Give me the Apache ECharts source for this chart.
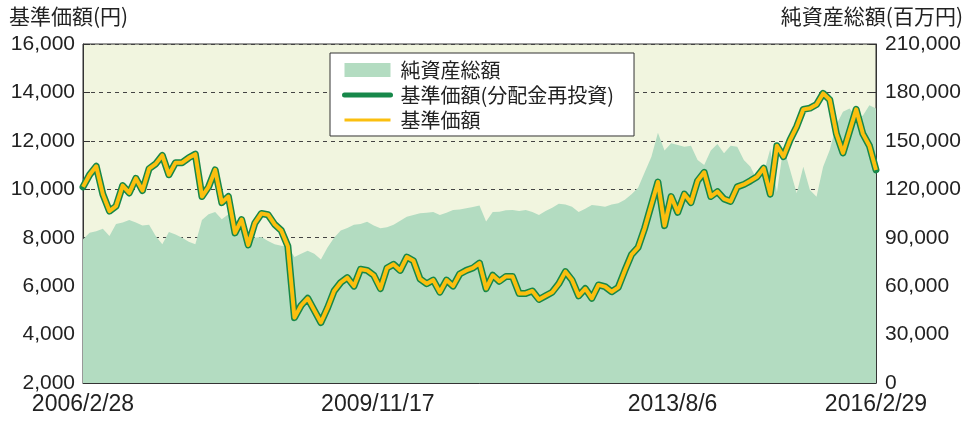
<!DOCTYPE html>
<html>
<head>
<meta charset="utf-8">
<script src="https://cdn.jsdelivr.net/npm/echarts@6/dist/echarts.min.js"></script>
<style>
  html, body { margin: 0; padding: 0; background: #fff; }
  #chart { width: 967px; height: 428px; }
</style>
</head>
<body>
<div id="chart"></div>
<script>
// monthly samples, 2006/2/28 .. 2016/2/29
const tickLabels = ['2006/2/28', '2009/11/17', '2013/8/6', '2016/2/29']

const nav = [
  10100, 10600, 10950, 9800, 9100, 9300, 10150, 9850, 10450, 9950,
  10850, 11050, 11400, 10600, 11100, 11100, 11300, 11450, 9700, 10100,
  10800, 9450, 9700, 8200, 8750, 7700, 8600, 9000, 8950, 8550,
  8300, 7650, 4700, 5200, 5500, 5000, 4500, 5100, 5800, 6150,
  6350, 6000, 6700, 6650, 6450, 5900, 6750, 6900, 6650, 7200,
  7050, 6300, 6100, 6250, 5750, 6250, 6000, 6500, 6650, 6750,
  6950, 5900, 6450, 6200, 6400, 6400, 5700, 5700, 5800, 5450,
  5600, 5750, 6100, 6600, 6250, 5600, 5900, 5500, 6050, 5980,
  5770, 5950, 6650, 7300, 7600, 8400, 9350, 10300, 8500, 9700,
  9050, 9800, 9450, 10350, 10700, 9700, 9900, 9600, 9500, 10100,
  10200, 10350, 10520, 10870, 9800, 11800, 11350, 12040, 12590, 13300,
  13350, 13500, 13960, 13700, 12300, 11500, 12400, 13300, 12300, 11800, 10800,
]

const navReinvested = [
  10100, 10600, 10950, 9800, 9100, 9300, 10150, 9850, 10450, 9950,
  10850, 11050, 11400, 10600, 11100, 11100, 11300, 11450, 9700, 10100,
  10800, 9450, 9700, 8200, 8750, 7700, 8600, 9000, 8950, 8550,
  8300, 7650, 4700, 5200, 5500, 5000, 4500, 5100, 5800, 6150,
  6350, 6000, 6700, 6650, 6450, 5900, 6750, 6900, 6650, 7200,
  7050, 6300, 6100, 6250, 5750, 6250, 6000, 6500, 6650, 6750,
  6950, 5900, 6450, 6200, 6400, 6400, 5700, 5700, 5800, 5450,
  5600, 5750, 6100, 6600, 6250, 5600, 5900, 5500, 6050, 5980,
  5770, 5950, 6650, 7300, 7600, 8400, 9350, 10300, 8500, 9700,
  9050, 9800, 9450, 10350, 10700, 9700, 9900, 9600, 9500, 10100,
  10200, 10350, 10520, 10870, 9800, 11800, 11350, 12040, 12590, 13300,
  13350, 13500, 13960, 13700, 12300, 11500, 12400, 13300, 12300, 11800, 10800,
]

const netAssets = [
  89000, 93000, 94000, 95500, 91000, 98500, 99500, 101000, 99500, 97500,
  98000, 91000, 86000, 93500, 92000, 90000, 87500, 86000, 101000, 104500,
  106000, 101500, 104500, 100000, 96000, 92000, 90000, 90500, 88000, 86000,
  85000, 84500, 78000, 80000, 82000, 80000, 76500, 84000, 90000, 94500,
  96000, 98000, 98500, 99900, 97500, 95800, 96500, 98000, 100500, 103000,
  104000, 105100, 105500, 106000, 104000, 105500, 107200, 107500, 108200, 109000,
  110000, 100000, 106000, 106100, 107000, 107200, 106500, 107200, 106000, 104100,
  106500, 108500, 111000, 110500, 109200, 106000, 108000, 110300, 109800, 109200,
  110500, 111300, 113500, 117000, 121000, 130500, 140000, 155000, 144000, 148500,
  147500, 146400, 147000, 138100, 135000, 144000, 148000, 142300, 147000, 146400,
  138100, 134000, 125800, 130000, 145000, 118000, 146400, 132000, 117500, 134000,
  119600, 115400, 134000, 144300, 160000, 168000, 170000, 165000, 165500, 172000, 170000,
]

const NUM_FONT = '"Liberation Sans", Arial, sans-serif'
const JP_FONT = '"Noto Sans CJK JP", sans-serif'

const AREA = '#b3dcc1'
const GREEN = '#17884a'
const YELLOW = '#fbbf0f'

const lastIdx = nav.length - 1
const t0 = new Date(tickLabels[0]).getTime()
const t1 = new Date(tickLabels[tickLabels.length - 1]).getTime()
const tickPos = tickLabels.map(d => (new Date(d).getTime() - t0) / (t1 - t0) * lastIdx)

const toPoints = arr => arr.map((v, i) => [i, v])
const fmt = v => v.toLocaleString('en-US')

const chart = echarts.init(document.getElementById('chart'))

chart.setOption({
  animation: false,
  grid: {
    left: 83, right: 91, top: 44, bottom: 45,
    show: true,
    backgroundColor: '#f1f5df',
    borderColor: '#333',
    borderWidth: 1,
    outerBoundsMode: 'none',
  },
  graphic: [
    {
      type: 'text', left: 9, top: 6,
      style: { text: '基準価額(円)', font: '21px ' + JP_FONT, fill: '#222' },
    },
    {
      type: 'text', right: 4, top: 6,
      style: { text: '純資産総額(百万円)', font: '21px ' + JP_FONT, fill: '#222' },
    },
  ],
  legend: {
    orient: 'vertical',
    left: 330,
    top: 53,
    padding: [7, 20, 6, 12],
    itemGap: 5,
    itemWidth: 46,
    itemHeight: 14,
    backgroundColor: '#fff',
    borderColor: '#333',
    borderWidth: 1,
    borderRadius: 0,
    textStyle: { fontFamily: JP_FONT, fontSize: 20, color: '#222', padding: [0, 0, 0, 5] },
    data: [
      { name: '純資産総額', icon: 'rect', itemStyle: { color: AREA, opacity: 1 } },
      { name: '基準価額(分配金再投資)', itemStyle: { opacity: 0 }, lineStyle: { width: 5, color: GREEN, cap: 'round' } },
      { name: '基準価額', itemStyle: { opacity: 0 }, lineStyle: { width: 3, color: YELLOW } },
    ],
  },
  xAxis: {
    type: 'value',
    min: 0,
    max: lastIdx,
    axisLine: { lineStyle: { color: '#333', width: 1 } },
    axisTick: { show: true, inside: true, length: 7, customValues: tickPos.slice(1, -1), lineStyle: { color: '#333' } },
    axisLabel: {
      customValues: tickPos,
      margin: 10,
      fontFamily: NUM_FONT,
      fontSize: 23,
      color: '#222',
      formatter: v => {
        const i = tickPos.findIndex(p => Math.abs(p - v) < 0.01)
        return i >= 0 ? tickLabels[i] : ''
      },
    },
    splitLine: { show: false },
  },
  yAxis: [
    {
      type: 'value',
      min: 2000,
      max: 16000,
      interval: 2000,
      axisLine: { show: true, lineStyle: { color: '#333' } },
      axisTick: { show: true, inside: true, length: 7, lineStyle: { color: '#333' } },
      axisLabel: { fontFamily: NUM_FONT, fontSize: 21, color: '#222', margin: 8, formatter: fmt },
      splitLine: { show: true, lineStyle: { color: '#444', type: [4, 4], width: 1 } },
    },
    {
      type: 'value',
      min: 0,
      max: 210000,
      interval: 30000,
      position: 'right',
      axisLine: { show: true, lineStyle: { color: '#333' } },
      axisTick: { show: true, inside: true, length: 7, lineStyle: { color: '#333' } },
      axisLabel: { fontFamily: NUM_FONT, fontSize: 21, color: '#222', margin: 9, formatter: fmt },
      splitLine: { show: false },
    },
  ],
  series: [
    {
      name: '純資産総額',
      type: 'line',
      yAxisIndex: 1,
      data: toPoints(netAssets),
      showSymbol: false,
      symbol: 'none',
      color: AREA,
      lineStyle: { width: 0, color: AREA },
      areaStyle: { color: AREA, opacity: 1 },
      z: 1,
    },
    {
      name: '基準価額(分配金再投資)',
      type: 'line',
      data: toPoints(navReinvested),
      showSymbol: false,
      symbol: 'none',
      color: GREEN,
      lineStyle: { width: 7, color: GREEN, cap: 'round', join: 'round' },
      z: 2,
    },
    {
      name: '基準価額',
      type: 'line',
      data: toPoints(nav),
      showSymbol: false,
      symbol: 'none',
      color: YELLOW,
      lineStyle: { width: 4, color: YELLOW, join: 'round' },
      z: 3,
    },
  ],
})
</script>
</body>
</html>
